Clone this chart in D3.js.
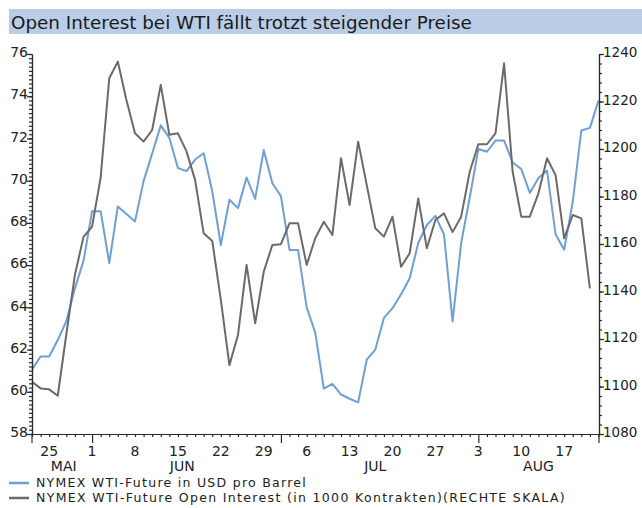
<!DOCTYPE html>
<html><head><meta charset="utf-8">
<script src="https://cdn.jsdelivr.net/npm/d3@7"></script>
<style>body{margin:0;background:#fff}svg{display:block}</style>
</head><body><svg id="c" width="642" height="508"></svg>
<script>
// ---- data ----
const titleText = "Open Interest bei WTI fällt trotzt steigender Preise";
const dates = [
 "2009-05-21","2009-05-22","2009-05-25","2009-05-26","2009-05-27","2009-05-28","2009-05-29",
 "2009-06-01","2009-06-02","2009-06-03","2009-06-04","2009-06-05",
 "2009-06-08","2009-06-09","2009-06-10","2009-06-11","2009-06-12",
 "2009-06-15","2009-06-16","2009-06-17","2009-06-18","2009-06-19",
 "2009-06-22","2009-06-23","2009-06-24","2009-06-25","2009-06-26",
 "2009-06-29","2009-06-30","2009-07-01","2009-07-02","2009-07-03",
 "2009-07-06","2009-07-07","2009-07-08","2009-07-09","2009-07-10",
 "2009-07-13","2009-07-14","2009-07-15","2009-07-16","2009-07-17",
 "2009-07-20","2009-07-21","2009-07-22","2009-07-23","2009-07-24",
 "2009-07-27","2009-07-28","2009-07-29","2009-07-30","2009-07-31",
 "2009-08-03","2009-08-04","2009-08-05","2009-08-06","2009-08-07",
 "2009-08-10","2009-08-11","2009-08-12","2009-08-13","2009-08-14",
 "2009-08-17","2009-08-18","2009-08-19","2009-08-20","2009-08-21"
];
// NYMEX WTI-Future in USD pro Barrel (left scale)
const wtiPrice = [
 61.05,61.67,61.67,62.45,63.35,64.90,66.20,
 68.55,68.55,66.10,68.78,68.42,
 68.07,69.98,71.28,72.62,72.03,
 70.60,70.45,71.00,71.30,69.50,
 66.95,69.10,68.70,70.15,69.14,
 71.45,69.88,69.27,66.72,66.72,
 64.00,62.80,60.15,60.38,59.87,
 59.67,59.50,61.52,62.00,63.50,
 63.96,64.62,65.38,67.05,67.90,
 68.33,67.45,63.33,67.05,69.20,
 71.50,71.37,71.90,71.90,70.86,
 70.55,69.42,70.13,70.48,67.46,
 66.73,69.00,72.38,72.50,73.80
];
// NYMEX WTI-Future Open Interest in 1000 contracts (right scale)
const openInterest = [
 1102.0,1099.2,1098.8,1096.1,1122.0,1147.0,1163.0,
 1167.3,1188.0,1229.8,1236.8,1220.6,
 1206.6,1203.1,1208.0,1227.0,1206.0,
 1206.6,1199.0,1187.0,1164.5,1161.3,
 1136.5,1109.0,1121.7,1151.2,1126.6,
 1148.3,1159.6,1159.9,1168.7,1168.7,
 1151.2,1162.4,1169.4,1163.8,1196.1,
 1176.4,1203.1,1184.8,1166.6,1163.1,
 1171.5,1150.4,1156.1,1179.2,1158.2,
 1170.1,1172.9,1165.0,1171.5,1190.4,
 1202.0,1202.0,1206.6,1236.1,1190.4,
 1171.5,1171.5,1181.3,1196.1,1189.0,
 1162.4,1172.2,1170.8,1141.3
];
const leftTicks = [58,60,62,64,66,68,70,72,74,76];
const rightTicks = [1080,1100,1120,1140,1160,1180,1200,1220,1240];
const monthNames = {"05":"MAI","06":"JUN","07":"JUL","08":"AUG"};
const legendLabels = ["NYMEX WTI-Future in USD pro Barrel",
                      "NYMEX WTI-Future Open Interest (in 1000 Kontrakten)(RECHTE SKALA)"];
const seriesColors = ["#6f9fd6","#6a6a6a"];

// ---- layout ----
const FONT = "DejaVu Sans, Verdana, sans-serif";
const svg = d3.select("#c");
const X0 = 32, X1 = 598.5, AXR = 599, Y0 = 434, Y1 = 54;
const x = d3.scaleLinear().domain([0, dates.length - 1]).range([X0, X1]);
const yL = d3.scaleLinear().domain([58, 76]).range([Y0, Y1]);
const yR = d3.scaleLinear().domain([1080, 1240]).range([Y0, Y1]);
const axisColor = "#2a2a2a";

function fitText(sel, target) {
  sel.attr("font-size", 100);
  const len = sel.node().getComputedTextLength();
  sel.attr("font-size", 100 * target / len);
}
function spreadText(sel, target) {
  const len = sel.node().getComputedTextLength();
  const n = sel.text().length;
  sel.attr("letter-spacing", ((target - len) / n).toFixed(3));
}

// title bar
svg.append("rect").attr("x", 9).attr("y", 9).attr("width", 633).attr("height", 25)
  .attr("fill", "#b9cde7");
const tt = svg.append("text").attr("x", 11).attr("y", 28.5).attr("font-family", FONT)
  .attr("fill", "#1a1a1a").text(titleText);
fitText(tt, 461);

// lines
const lineL = d3.line().x((d, i) => x(i)).y(d => yL(d));
const lineR = d3.line().x((d, i) => x(i)).y(d => yR(d));
svg.append("path").datum(wtiPrice).attr("d", lineL).attr("fill", "none")
  .attr("stroke", seriesColors[0]).attr("stroke-width", 2).attr("stroke-linejoin", "round");
svg.append("path").datum(openInterest).attr("d", lineR).attr("fill", "none")
  .attr("stroke", seriesColors[1]).attr("stroke-width", 2).attr("stroke-linejoin", "round");

function styleAxis(g, fs) {
  g.selectAll("path,line").attr("stroke", axisColor).attr("stroke-width", 1.2);
  g.selectAll("text").attr("font-family", FONT).attr("font-size", fs || 14).attr("fill", "#222");
}

// left axis
const gLm = svg.append("g").attr("transform", `translate(${X0},0)`)
  .call(d3.axisLeft(yL).tickValues(d3.range(580, 761, 2).map(v => v / 10)).tickSize(3).tickFormat("").tickSizeOuter(0));
const gL = svg.append("g").attr("transform", `translate(${X0},0)`)
  .call(d3.axisLeft(yL).tickValues(leftTicks).tickSize(5).tickPadding(-1).tickSizeOuter(0).tickFormat(d3.format("d")));
styleAxis(gLm); styleAxis(gL);
gL.selectAll("text").attr("dy", "0.19em");

// right axis
const gRm = svg.append("g").attr("transform", `translate(${AXR},0)`)
  .call(d3.axisRight(yR).tickValues(d3.range(1080, 1241, 4)).tickSize(3).tickFormat("").tickSizeOuter(0));
const gR = svg.append("g").attr("transform", `translate(${AXR},0)`)
  .call(d3.axisRight(yR).tickValues(rightTicks).tickSize(5).tickPadding(-1).tickSizeOuter(0).tickFormat(d3.format("d")));
styleAxis(gRm); styleAxis(gR, 13.5);
gR.selectAll("text").attr("dy", "0.19em");

// extensions of vertical axes below baseline
[X0, AXR].forEach(px => svg.append("line").attr("x1", px).attr("x2", px)
  .attr("y1", Y0).attr("y2", Y0 + 9).attr("stroke", axisColor).attr("stroke-width", 1.2));

// bottom axis
const parsed = dates.map(d => new Date(d + "T00:00:00Z"));
const monthStart = parsed.map((d, i) => i > 0 && d.getUTCMonth() !== parsed[i - 1].getUTCMonth());
const gB = svg.append("g").attr("transform", `translate(0,${Y0})`)
  .call(d3.axisBottom(x).tickValues(d3.range(dates.length)).tickSize(3).tickFormat("").tickSizeOuter(0));
styleAxis(gB);
gB.select(".domain").attr("d", `M${X0},0.5H${AXR}`);
gB.selectAll(".tick line").attr("y2", (d) => monthStart[d] ? 9 : 3);

// day labels at Mondays
const mondays = d3.range(dates.length).filter(i => parsed[i].getUTCDay() === 1);
svg.append("g").selectAll("text").data(mondays).join("text")
  .attr("x", i => x(i)).attr("y", 456).attr("text-anchor", "middle")
  .attr("font-family", FONT).attr("font-size", 14).attr("fill", "#222")
  .text(i => String(parsed[i].getUTCDate()));

// month labels centred on visible span
const months = d3.groups(d3.range(dates.length), i => dates[i].slice(5, 7));
svg.append("g").selectAll("text").data(months).join("text")
  .attr("x", d => x((d[1][0] + d[1][d[1].length - 1]) / 2 + (d[0] === "05" ? 0.7 : 0))).attr("y", 471)
  .attr("text-anchor", "middle").attr("font-family", FONT).attr("font-size", 14).attr("fill", "#222")
  .text(d => monthNames[d[0]]);

// legend
const lg = svg.append("g");
legendLabels.forEach((lab, k) => {
  const by = 487 + k * 15;
  lg.append("line").attr("x1", 9).attr("x2", 29).attr("y1", by - 4).attr("y2", by - 4)
    .attr("stroke", seriesColors[k]).attr("stroke-width", 2.5);
  const t = lg.append("text").attr("x", 36).attr("y", by).attr("font-family", FONT)
    .attr("font-size", 12.5).attr("fill", "#222").text(lab);
  spreadText(t, k === 0 ? 271 : 530);
});
</script>
</body></html>
